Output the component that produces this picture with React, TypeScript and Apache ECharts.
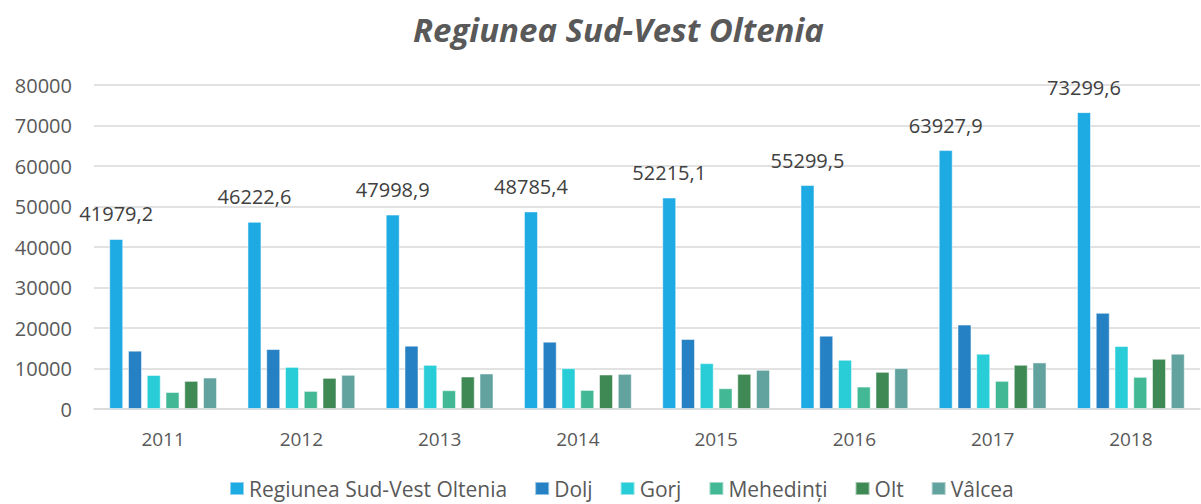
import React, { useEffect, useRef } from "react";
import * as echarts from "echarts";

const years = ["2011", "2012", "2013", "2014", "2015", "2016", "2017", "2018"];
const seriesNames = ["Regiunea Sud-Vest Oltenia", "Dolj", "Gorj", "Mehedinți", "Olt", "Vâlcea"];
const regiune = [41979.2, 46222.6, 47998.9, 48785.4, 52215.1, 55299.5, 63927.9, 73299.6];
const dolj = [14400, 14800, 15630, 16630, 17290, 18110, 20840, 23750];
const gorj = [8400, 10400, 10900, 10090, 11330, 12160, 13650, 15550];
const mehedinti = [4200, 4470, 4640, 4710, 5130, 5540, 6950, 7940];
const olt = [6950, 7690, 8020, 8520, 8680, 9180, 10920, 12400];
const valcea = [7770, 8440, 8770, 8680, 9680, 10090, 11500, 13650];
const colors = ["#1EAAE2", "#2581C4", "#29CDD8", "#43B894", "#3F8954", "#62A39F"];

const FONT = "'Open Sans', 'Noto Sans', sans-serif";

export default function App() {
  const ref = useRef<HTMLDivElement>(null);
  useEffect(() => {
    if (!ref.current) return;
    const chart = echarts.init(ref.current, undefined, { renderer: "svg" });
    const all = [regiune, dolj, gorj, mehedinti, olt, valcea];
    chart.setOption({
      animation: false,
      backgroundColor: "#ffffff",
      title: {
        text: "Regiunea Sud-Vest Oltenia",
        left: 408,
        top: 8,
        textStyle: {
          fontFamily: FONT,
          fontSize: 33,
          fontWeight: "bold",
          fontStyle: "italic",
          color: "#595959",
        },
      },
      legend: {
        bottom: 0,
        left: 224,
        itemWidth: 14,
        itemHeight: 13,
        itemGap: 27,
        icon: "rect",
        textStyle: { fontFamily: FONT, fontSize: 21, color: "#595959" },
        data: seriesNames,
      },
      grid: { left: 94, right: 1, top: 85, bottom: 95 },
      xAxis: {
        type: "category",
        data: years,
        axisLine: { lineStyle: { color: "#d9d9d9", width: 1.5 } },
        axisTick: { show: false },
        axisLabel: { fontFamily: FONT, fontSize: 19, color: "#595959", margin: 20 },
      },
      yAxis: {
        type: "value",
        min: 0,
        max: 80000,
        interval: 10000,
        axisLine: { show: false },
        axisTick: { show: false },
        splitLine: { lineStyle: { color: "#d9d9d9", width: 1.5 } },
        axisLabel: {
          fontFamily: FONT,
          fontSize: 20,
          color: "#595959",
          margin: 22,
          formatter: (v: number) => String(v),
        },
      },
      series: seriesNames.map((name, i) => ({
        name,
        type: "bar",
        data: all[i],
        barWidth: 14,
        barGap: "34%",
        itemStyle: { color: colors[i], borderColor: "rgba(255,255,255,0.5)", borderWidth: 1 },
        label:
          i === 0
            ? {
                show: true,
                position: "top",
                distance: 15,
                fontFamily: FONT,
                fontSize: 20,
                color: "#404040",
                formatter: (p: any) => String(p.value).replace(".", ","),
              }
            : { show: false },
      })),
    });
    return () => chart.dispose();
  }, []);
  return <div ref={ref} style={{ position: "fixed", left: 0, top: 0, width: 1201, height: 504 }} />;
}
